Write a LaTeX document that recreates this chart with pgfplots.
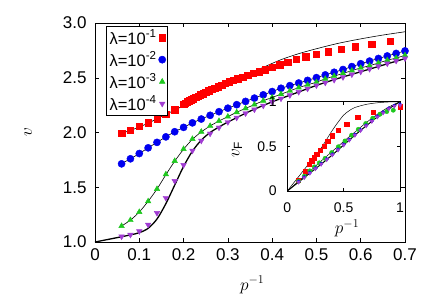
\documentclass[border=0pt]{standalone}
\usepackage{fontspec}
\setmainfont{Liberation Sans}
\usepackage{pgfplots}
\pgfplotsset{compat=1.18}
\definecolor{cred}{RGB}{255,0,0}
\definecolor{cblue}{RGB}{0,0,240}
\definecolor{cgreen}{RGB}{30,200,30}
\definecolor{cpurple}{RGB}{160,60,210}
\begin{document}
\begin{tikzpicture}
\useasboundingbox (-95pt,-64pt) rectangle (341pt,242pt);
\begin{axis}[at={(0pt,0pt)}, anchor=south west, scale only axis,
  width=310pt, height=219pt, clip mode=individual,
  xmin=0, xmax=0.7, ymin=1, ymax=3,
  xtick={0,0.1,0.2,0.3,0.4,0.5,0.6,0.7},
  ytick={1,1.5,2,2.5,3},
  tick align=inside, major tick length=4pt, tick style={black, line width=0.5pt},
  axis line style={line width=0.6pt},
  /pgf/number format/assume math mode=true,
  yticklabel={\pgfmathprintnumber[fixed, fixed zerofill, precision=1]{\tick}},
  xticklabel={\pgfmathprintnumber[fixed, precision=1]{\tick}},
  tick label style={font=\fontsize{17}{17}\selectfont},
  xticklabel style={yshift=-3pt},
  yticklabel style={xshift=-5pt},
  legend style={at={(axis description cs:0.035,0.986)}, anchor=north west,
    font=\fontsize{16.5}{16.5}\selectfont, draw=black, line width=0.5pt, inner sep=1.5pt, row sep=2.2pt},
  legend plot pos=right, legend cell align=left,
]
\node[rotate=90, font=\fontsize{18}{18}\selectfont] at (axis description cs:-0.216,0.502) {$v$};
\node[font=\fontsize{18}{18}\selectfont] at (axis description cs:0.507,-0.196) {$p^{-1}$};
% theory lines
\addplot[black, line width=0.6pt, smooth, forget plot] coordinates {
(0.055,1.985) (0.08,2.02) (0.1,2.05) (0.125,2.095) (0.15,2.145) (0.175,2.195) (0.2,2.245)
(0.225,2.295) (0.25,2.345) (0.275,2.395) (0.3,2.44) (0.335,2.51) (0.38,2.595) (0.42,2.665)
(0.46,2.72) (0.5,2.765) (0.55,2.815) (0.6,2.855) (0.65,2.89) (0.7,2.92)};
\addplot[black, line width=0.6pt, smooth, forget plot] table {
x y
0.06 1.717
0.08 1.760
0.10 1.808
0.12 1.860
0.14 1.910
0.16 1.960
0.18 2.007
0.20 2.047
0.22 2.088
0.24 2.123
0.26 2.157
0.28 2.190
0.30 2.222
0.32 2.254
0.34 2.284
0.36 2.314
0.38 2.344
0.40 2.374
0.42 2.404
0.44 2.428
0.46 2.452
0.48 2.476
0.50 2.501
0.52 2.526
0.54 2.550
0.56 2.575
0.58 2.602
0.60 2.628
0.62 2.652
0.64 2.676
0.66 2.699
0.68 2.722
0.70 2.745
};
\addplot[black, line width=0.6pt, smooth, forget plot] table {
x y
0.06 1.146
0.08 1.200
0.10 1.274
0.12 1.372
0.14 1.484
0.16 1.614
0.18 1.738
0.20 1.847
0.22 1.938
0.24 2.005
0.26 2.060
0.28 2.105
0.30 2.145
0.32 2.185
0.34 2.220
0.36 2.255
0.38 2.290
0.40 2.320
0.42 2.350
0.44 2.380
0.46 2.410
0.48 2.435
0.50 2.460
0.52 2.490
0.54 2.515
0.56 2.540
0.58 2.565
0.60 2.590
0.62 2.610
0.64 2.635
0.66 2.660
0.68 2.680
0.70 2.705
};
\addplot[black, line width=1.3pt, smooth, forget plot] coordinates {
(0,1.0) (0.05,1.04) (0.08,1.065) (0.1,1.085) (0.12,1.125) (0.14,1.21) (0.16,1.35) (0.18,1.52)
(0.2,1.69) (0.22,1.83) (0.24,1.93) (0.26,2.0) (0.28,2.05) (0.3,2.095) (0.35,2.195) (0.4,2.28)
(0.45,2.355) (0.5,2.43) (0.55,2.495) (0.6,2.555) (0.65,2.615) (0.7,2.675)};
% data
\addplot[only marks, mark=square*, mark size=3.2pt, color=cred] table {
x y
0.06 1.996
0.08 2.022
0.10 2.055
0.12 2.090
0.14 2.126
0.16 2.168
0.18 2.210
0.2000 2.260
0.2041 2.270
0.2083 2.280
0.2128 2.290
0.2174 2.300
0.2222 2.310
0.2273 2.321
0.2326 2.332
0.2381 2.344
0.2439 2.356
0.2500 2.369
0.2564 2.381
0.2632 2.394
0.2703 2.407
0.2778 2.420
0.2857 2.434
0.2941 2.449
0.3030 2.464
0.3125 2.478
0.3226 2.492
0.3333 2.507
0.3448 2.523
0.3571 2.539
0.3704 2.556
0.3846 2.575
0.4000 2.595
0.4167 2.620
0.4348 2.641
0.4545 2.668
0.4762 2.692
0.5000 2.714
0.5263 2.738
0.5556 2.763
0.5882 2.784
0.6250 2.808
0.6667 2.836
};
\addlegendentry{λ=10\textsuperscript{-1}}
\addplot[only marks, mark=*, mark size=3.6pt, color=cblue] table {
x y
0.06 1.714
0.08 1.760
0.10 1.808
0.12 1.860
0.14 1.910
0.16 1.960
0.18 2.007
0.20 2.047
0.22 2.088
0.24 2.123
0.26 2.157
0.28 2.190
0.30 2.222
0.32 2.254
0.34 2.284
0.36 2.314
0.38 2.344
0.40 2.374
0.42 2.404
0.44 2.428
0.46 2.452
0.48 2.476
0.50 2.501
0.52 2.526
0.54 2.550
0.56 2.575
0.58 2.602
0.60 2.628
0.62 2.652
0.64 2.676
0.66 2.699
0.68 2.722
0.70 2.745
};
\addlegendentry{λ=10\textsuperscript{-2}}
\addplot[only marks, mark=triangle*, mark size=3.2pt, color=cgreen] table {
x y
0.06 1.146
0.08 1.200
0.10 1.274
0.12 1.372
0.14 1.484
0.16 1.618
0.18 1.740
0.20 1.849
0.22 1.941
0.24 2.007
0.26 2.060
0.28 2.105
0.30 2.145
0.32 2.185
0.34 2.220
0.36 2.255
0.38 2.290
0.40 2.320
0.42 2.350
0.44 2.380
0.46 2.410
0.48 2.435
0.50 2.460
0.52 2.490
0.54 2.515
0.56 2.540
0.58 2.565
0.60 2.590
0.62 2.610
0.64 2.635
0.66 2.660
0.68 2.680
0.70 2.705
};
\addlegendentry{λ=10\textsuperscript{-3}}
\addplot[only marks, mark=triangle*, mark size=3.2pt, mark options={rotate=180}, color=cpurple] table {
x y
0.06 1.050
0.08 1.066
0.10 1.098
0.12 1.158
0.14 1.265
0.16 1.403
0.18 1.557
0.20 1.703
0.22 1.834
0.24 1.925
0.26 1.990
0.28 2.045
0.30 2.095
0.32 2.135
0.34 2.175
0.36 2.210
0.38 2.245
0.40 2.280
0.42 2.310
0.44 2.340
0.46 2.370
0.48 2.400
0.50 2.430
0.52 2.455
0.54 2.480
0.56 2.505
0.58 2.530
0.60 2.555
0.62 2.580
0.64 2.605
0.66 2.630
0.68 2.655
0.70 2.677
};
\addlegendentry{λ=10\textsuperscript{-4}}
\end{axis}
% inset
\begin{axis}[at={(192.3pt,51pt)}, anchor=south west, scale only axis,
  width=112.7pt, height=89.3pt, clip mode=individual,
  xmin=0, xmax=1, ymin=0, ymax=1,
  xtick={0,0.5,1}, ytick={0,0.5,1},
  axis background/.style={fill=white},
  tick align=inside, major tick length=3pt, tick style={black, line width=0.5pt},
  axis line style={line width=0.6pt},
  /pgf/number format/assume math mode=true,
  tick label style={font=\fontsize{14}{14}\selectfont},
  xticklabel style={yshift=-8pt},
  yticklabel style={xshift=-7pt},
]
\node[rotate=90, font=\fontsize{17}{17}\selectfont] at (axis description cs:-0.446,0.459) {$v_{\mathrm{F}}$};
\node[font=\fontsize{17}{17}\selectfont] at (axis description cs:0.53,-0.42) {$p^{-1}$};
\addplot[black, line width=0.5pt, smooth] coordinates {
(0,0) (0.05,0.08) (0.1,0.16) (0.15,0.24) (0.2,0.32) (0.25,0.4) (0.3,0.48) (0.35,0.58)
(0.4,0.68) (0.45,0.77) (0.5,0.85) (0.55,0.9) (0.6,0.935) (0.7,0.97) (0.8,0.988) (0.9,0.997) (1,1)};
\addplot[black, line width=0.5pt, smooth] coordinates {
(0,0) (0.1,0.11) (0.2,0.22) (0.3,0.335) (0.4,0.445) (0.5,0.555) (0.6,0.66) (0.7,0.765)
(0.8,0.86) (0.9,0.94) (1,1)};
\addplot[black, line width=1pt, smooth] coordinates {
(0,0) (0.1,0.1) (0.2,0.2) (0.3,0.3) (0.4,0.405) (0.5,0.515) (0.6,0.625) (0.7,0.73)
(0.8,0.83) (0.9,0.92) (1,1)};
\addplot[only marks, mark=square*, mark size=2.2pt, color=cred] coordinates {
(0.098,0.123) (0.157,0.224) (0.195,0.302) (0.216,0.339) (0.24,0.373) (0.26,0.411)
(0.29,0.459) (0.328,0.504) (0.358,0.56) (0.4,0.619) (0.453,0.683) (0.527,0.75)
(0.625,0.825) (0.763,0.885) (1.0,0.944)};
\addplot[only marks, mark=*, mark size=2.2pt, color=cgreen] coordinates {
(0.1,0.11) (0.15,0.165) (0.2,0.225) (0.24,0.27) (0.284,0.315) (0.335,0.365) (0.394,0.43)
(0.453,0.495) (0.512,0.56) (0.571,0.625) (0.63,0.69) (0.696,0.755) (0.758,0.815)
(0.822,0.86) (0.882,0.89) (0.94,0.905)};
\addplot[only marks, mark=*, mark size=1.8pt, color=cblue] coordinates {
(0.1,0.105) (0.15,0.155) (0.2,0.205) (0.25,0.255) (0.3,0.305) (0.35,0.357) (0.4,0.41)
(0.45,0.465) (0.5,0.52) (0.55,0.575) (0.6,0.63) (0.65,0.683) (0.7,0.735) (0.75,0.785)
(0.8,0.835) (0.85,0.88) (0.9,0.925) (0.95,0.955) (1.0,0.97)};
\addplot[only marks, mark=triangle*, mark size=2.2pt, mark options={rotate=180}, color=cpurple] coordinates {
(0.1,0.1) (0.15,0.15) (0.2,0.2) (0.25,0.25) (0.3,0.3) (0.35,0.352) (0.4,0.405)
(0.45,0.46) (0.5,0.515) (0.55,0.57) (0.6,0.625) (0.65,0.678) (0.7,0.73) (0.75,0.78)
(0.8,0.83) (0.85,0.875) (0.9,0.92) (0.95,0.95) (1.0,0.96)};
\end{axis}
\end{tikzpicture}
\end{document}
